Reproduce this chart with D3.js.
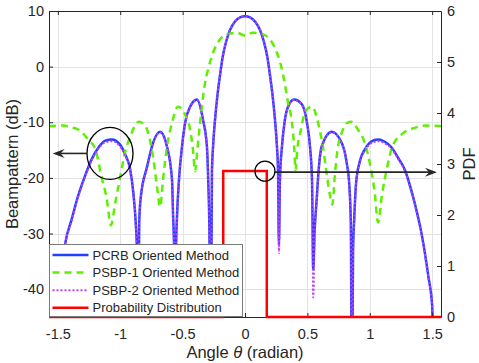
<!DOCTYPE html>
<html>
<head>
<meta charset="utf-8">
<title>Beampattern vs PDF</title>
<style>
  body { margin: 0; background: #fff; }
  svg text { font-family: "Liberation Sans", Arial, sans-serif; fill: #262626; }
</style>
</head>
<body>
<div id="chart"></div>
<script src="https://d3js.org/d3.v7.min.js"></script>
<script>

// angle samples (radian) shared by the PCRB and PSBP-2 curves
let pcrbTheta = [
  -1.571, -1.514, -1.50, -1.47, -1.44, -1.39, -1.34, -1.28, -1.23, -1.17,
  -1.12, -1.066, -1.01, -0.96, -0.92, -0.895, -0.876, -0.866, -0.857, -0.848,
  -0.835, -0.785, -0.737, -0.681, -0.625, -0.585, -0.577, -0.568, -0.561, -0.553,
  -0.545, -0.529, -0.505, -0.48, -0.44, -0.385, -0.337, -0.305, -0.295, -0.285,
  -0.276, -0.265, -0.255, -0.24, -0.22, -0.20, -0.18, -0.15, -0.12, -0.08,
  -0.04, 0, 0.04, 0.08, 0.12, 0.15, 0.18, 0.20, 0.22, 0.24,
  0.255, 0.265, 0.272, 0.28, 0.296, 0.32, 0.345, 0.393, 0.457, 0.497,
  0.521, 0.537, 0.547, 0.557, 0.574, 0.587, 0.614, 0.695, 0.775, 0.815,
  0.835, 0.848, 0.857, 0.866, 0.876, 0.89, 0.92, 0.96, 1.01, 1.066,
  1.12, 1.17, 1.23, 1.28, 1.33, 1.36, 1.42, 1.47, 1.50, 1.514,
  1.571
];

// beampattern (dB), PCRB oriented method
let pcrbDb = [
  -60, -60, -43, -37, -31.7, -27.5, -23.4, -19.5, -16.7, -14.4,
  -13.3, -13.1, -13.8, -15.8, -18.5, -22.7, -28, -33, -60, -28,
  -23.4, -18, -13.7, -11.7, -14.4, -20.3, -26.3, -33, -60, -33,
  -27, -20.3, -14.4, -10.1, -7.2, -5.9, -9.5, -14.4, -20.3, -30,
  -60, -19, -14, -9.5, -5.0, -1.5, 1.6, 4.6, 6.6, 8.1,
  8.85, 9.05, 8.85, 8.1, 6.6, 4.6, 1.6, -1.5, -5.0, -9.5,
  -14, -19, -32, -20.3, -14.4, -9.5, -7.2, -5.9, -6.8, -10.1,
  -14.4, -20.3, -36.5, -30, -24, -19.5, -14.4, -11.7, -13.7, -17.3,
  -21, -28, -60, -33, -27, -21, -17, -14.9, -13.5, -13.1,
  -13.5, -14.4, -16.5, -18.5, -22, -24.5, -30.6, -37.8, -43, -60,
  -60
];

// beampattern (dB), PSBP-2 oriented method
let psbp2Db = [
  -60, -60, -43, -37, -31.9, -27.7, -23.6, -19.7, -16.9, -14.6,
  -13.6, -13.4, -14.1, -16.0, -18.7, -22.9, -28.2, -33.5, -60, -28.5,
  -23.6, -18.1, -13.8, -11.8, -14.5, -20.4, -26.5, -34, -60, -34,
  -27.3, -20.4, -14.5, -10.2, -7.3, -6.0, -9.6, -14.5, -20.5, -30.5,
  -60, -19.2, -14.1, -9.5, -5.0, -1.5, 1.6, 4.6, 6.6, 8.1,
  8.85, 9.05, 8.85, 8.1, 6.6, 4.6, 1.6, -1.5, -5.0, -9.5,
  -14.1, -19.3, -33.5, -20.6, -14.5, -9.6, -7.3, -6.0, -6.9, -10.2,
  -14.6, -21, -41.5, -31, -24.4, -19.7, -14.5, -11.8, -13.8, -17.4,
  -21.2, -28.5, -60, -33.5, -27.2, -21.2, -17.2, -15.1, -13.8, -13.4,
  -13.8, -14.6, -16.7, -18.7, -22.2, -24.7, -30.8, -38, -43, -60,
  -60
];

// angle samples (radian) and beampattern (dB), PSBP-1 oriented method
let psbp1Theta = [
  -1.571, -1.50, -1.45, -1.40, -1.338, -1.29, -1.258, -1.20, -1.15, -1.11,
  -1.074, -1.04, -1.00, -0.962, -0.92, -0.85, -0.82, -0.785, -0.737, -0.705,
  -0.68, -0.657, -0.625, -0.585, -0.537, -0.48, -0.44, -0.417, -0.40, -0.38,
  -0.36, -0.32, -0.296, -0.256, -0.20, -0.144, -0.064, 0, 0.064, 0.144,
  0.20, 0.256, 0.296, 0.32, 0.345, 0.377, 0.395, 0.405, 0.42, 0.44,
  0.47, 0.50, 0.537, 0.58, 0.60, 0.625, 0.65, 0.68, 0.70, 0.72,
  0.745, 0.775, 0.82, 0.85, 0.905, 0.96, 1.00, 1.04, 1.066, 1.10,
  1.14, 1.18, 1.27, 1.36, 1.45, 1.571
];
let psbp1Db = [
  -10.7, -10.6, -10.6, -10.9, -11.3, -12.2, -13.1, -14.8, -19.8, -23.5,
  -28.5, -24.5, -19.8, -15.5, -12.6, -9.9, -10.2, -11.3, -16.2, -21.6,
  -25.2, -20.3, -14.4, -10.1, -7.2, -8.6, -11.3, -14.9, -18.8, -14.5,
  -10.1, -2.9, -0.5, 2.5, 4.9, 5.8, 6.1, 5.6, 6.1, 5.8,
  4.9, 2.5, -0.5, -3.2, -6.5, -10.1, -14.8, -18.6, -14.6, -12.3,
  -9.0, -7.6, -7.2, -9.5, -11.5, -14.4, -18.5, -23, -24.8, -19.5,
  -14.4, -11.9, -10.1, -9.9, -11.3, -13.7, -17.3, -22.7, -28, -22.7,
  -18, -14.4, -11.9, -11.0, -10.6, -10.7
];

// probability distribution of the angle (right axis)
let pdfTheta = [-1.5708, -0.1745, -0.1745, 0.1745, 0.1745, 1.5708];
let pdfValue = [0, 0, 2.865, 2.865, 0, 0];

// tick values
let xTicks = [-1.5, -1, -0.5, 0, 0.5, 1, 1.5];
let yLeftTicks = [-40, -30, -20, -10, 0, 10];
let yRightTicks = [0, 1, 2, 3, 4, 5, 6];

let legendNames = ["PCRB Oriented Method", "PSBP-1 Oriented Method",
  "PSBP-2 Oriented Method", "Probability Distribution"];

// annotation anchors (data units)
let bigMark = {theta: -1.082, db: -15.6};
let leftArrow = {from: -1.266, to: -1.541, db: -15.6};
let smallMark = {theta: 0.16, pdf: 2.86};
let rightArrow = {from: 0.2404, to: 1.538, pdf: 2.84};

//Set dimensions and margins of the graph
let margin = {top: 11, right: 38, bottom: 46, left: 49};
let width = 479 - margin.left - margin.right;
let height = 363 - margin.top - margin.bottom;

let xScale = d3.scaleLinear().domain([-Math.PI / 2, Math.PI / 2]).range([0, width]);
let yLeft = d3.scaleLinear().domain([-45, 10]).range([height, 0]);
let yRight = d3.scaleLinear().domain([0, 6]).range([height, 0]);

let svg = d3.select("#chart").append("svg")
  .attr("width", 479)
  .attr("height", 363)
  .append("g")
  .attr("transform", "translate(" + margin.left + "," + margin.top + ")");

svg.append("defs").append("clipPath").attr("id", "plotclip")
  .append("rect").attr("width", width).attr("height", height);

// grid
svg.append("g").selectAll("line").data(xTicks).enter().append("line")
  .attr("x1", d => Math.round(xScale(d)) + 0.5).attr("x2", d => Math.round(xScale(d)) + 0.5)
  .attr("y1", 0).attr("y2", height)
  .attr("stroke", "#e3e3e3");
svg.append("g").selectAll("line").data(yLeftTicks).enter().append("line")
  .attr("x1", 0).attr("x2", width)
  .attr("y1", d => Math.round(yLeft(d)) + 0.5).attr("y2", d => Math.round(yLeft(d)) + 0.5)
  .attr("stroke", "#e3e3e3");

// curves
let dbLine = d3.line()
  .x(d => xScale(d[0]))
  .y(d => yLeft(d[1]))
  .curve(d3.curveMonotoneX);

let curves = svg.append("g").attr("clip-path", "url(#plotclip)");

curves.append("path")
  .datum(d3.zip(pcrbTheta, pcrbDb))
  .attr("d", dbLine)
  .attr("fill", "none")
  .attr("stroke", "#2040ff")
  .attr("stroke-width", 2.5);

curves.append("path")
  .datum(d3.zip(psbp1Theta, psbp1Db))
  .attr("d", dbLine)
  .attr("fill", "none")
  .attr("stroke", "#5ef000")
  .attr("stroke-width", 2.5)
  .attr("stroke-dasharray", "7,5");

curves.append("path")
  .datum(d3.zip(pcrbTheta, psbp2Db))
  .attr("d", dbLine)
  .attr("fill", "none")
  .attr("stroke", "#c03cff")
  .attr("stroke-width", 2)
  .attr("stroke-dasharray", "2,2");

// axes
let axisColor = "#262626";
function styleAxis(g) {
  g.selectAll(".domain").attr("stroke", axisColor);
  g.selectAll(".tick line").attr("stroke", axisColor);
  g.selectAll("text").attr("fill", axisColor).style("font-size", "14.5px")
    .style("font-family", '"Liberation Sans", Arial, sans-serif');
}

svg.append("g")
  .attr("transform", "translate(0," + height + ")")
  .call(d3.axisBottom(xScale).tickValues(xTicks).tickFormat(d => String(d))
    .tickSizeInner(-4).tickSizeOuter(0).tickPadding(12))
  .call(styleAxis);

svg.append("g")
  .call(d3.axisTop(xScale).tickValues(xTicks).tickFormat("")
    .tickSizeInner(-4).tickSizeOuter(0))
  .call(styleAxis);

svg.append("g")
  .call(d3.axisLeft(yLeft).tickValues(yLeftTicks).tickFormat(d => String(d))
    .tickSizeInner(-4).tickSizeOuter(0).tickPadding(5))
  .call(styleAxis);

svg.append("g")
  .attr("transform", "translate(" + width + ",0)")
  .call(d3.axisRight(yRight).tickValues(yRightTicks).tickFormat(d => String(d))
    .tickSizeInner(-4).tickSizeOuter(0).tickPadding(6))
  .call(styleAxis);

// probability distribution on the right axis
let pdfLine = d3.line()
  .x(d => xScale(d[0]))
  .y(d => yRight(d[1]));

svg.append("path")
  .datum(d3.zip(pdfTheta, pdfValue))
  .attr("d", pdfLine)
  .attr("fill", "none")
  .attr("stroke", "#ff0000")
  .attr("stroke-width", 2.5);

// axis labels
svg.append("text")
  .attr("transform", "translate(" + (12 - margin.left) + "," + (height / 2) + ") rotate(-90)")
  .attr("text-anchor", "middle")
  .attr("dy", "0.35em")
  .style("font-size", "16.5px")
  .text("Beampattern (dB)");

svg.append("text")
  .attr("transform", "translate(" + (width + 28) + "," + (height / 2) + ") rotate(-90)")
  .attr("text-anchor", "middle")
  .attr("dy", "0.35em")
  .style("font-size", "16.5px")
  .text("PDF");

let xLabel = svg.append("text")
  .attr("x", width / 2)
  .attr("y", height + 41)
  .attr("text-anchor", "middle")
  .style("font-size", "16.5px");
xLabel.append("tspan").text("Angle ");
xLabel.append("tspan").style("font-style", "italic").text("θ");
xLabel.append("tspan").text(" (radian)");

// annotations: circles and arrows
function arrowHead(tipX, tipY, dir) {
  let L = 12, W = 4.5;
  return "M" + tipX + "," + tipY +
    "L" + (tipX - dir * L) + "," + (tipY - W) +
    "L" + (tipX - dir * L * 0.65) + "," + tipY +
    "L" + (tipX - dir * L) + "," + (tipY + W) + "Z";
}

let notes = svg.append("g");

notes.append("ellipse")
  .attr("cx", xScale(bigMark.theta)).attr("cy", yLeft(bigMark.db))
  .attr("rx", 23).attr("ry", 26)
  .attr("fill", "none").attr("stroke", "#000").attr("stroke-width", 1.3);

let lay = yLeft(leftArrow.db);
notes.append("line")
  .attr("x1", xScale(leftArrow.from)).attr("x2", xScale(leftArrow.to) + 8)
  .attr("y1", lay).attr("y2", lay)
  .attr("stroke", axisColor).attr("stroke-width", 1.6);
notes.append("path")
  .attr("d", arrowHead(xScale(leftArrow.to), lay, -1))
  .attr("fill", axisColor);

notes.append("circle")
  .attr("cx", xScale(smallMark.theta)).attr("cy", yRight(smallMark.pdf))
  .attr("r", 10)
  .attr("fill", "none").attr("stroke", "#000").attr("stroke-width", 1.3);

let ray = yRight(rightArrow.pdf);
notes.append("line")
  .attr("x1", xScale(rightArrow.from)).attr("x2", xScale(rightArrow.to) - 8)
  .attr("y1", ray).attr("y2", ray)
  .attr("stroke", axisColor).attr("stroke-width", 1.6);
notes.append("path")
  .attr("d", arrowHead(xScale(rightArrow.to), ray, 1))
  .attr("fill", axisColor);

// legend
let legend = svg.append("g").attr("transform", "translate(0.5," + (height - 72.5) + ")");
legend.append("rect")
  .attr("width", 193).attr("height", 72)
  .attr("fill", "#fff").attr("stroke", "#7a7a7a");

let legendStyles = [
  {color: "#2040ff", dash: null, w: 2.5},
  {color: "#5ef000", dash: "7,5", w: 2.5},
  {color: "#c03cff", dash: "2,2", w: 2},
  {color: "#ff0000", dash: null, w: 2.5}
];

let rows = legend.selectAll(".row").data(legendNames).enter().append("g")
  .attr("class", "row")
  .attr("transform", (d, i) => "translate(0," + (10.5 + i * 17.6) + ")");
rows.append("line")
  .attr("x1", 3).attr("x2", 39)
  .attr("stroke", (d, i) => legendStyles[i].color)
  .attr("stroke-width", (d, i) => legendStyles[i].w)
  .attr("stroke-dasharray", (d, i) => legendStyles[i].dash);
rows.append("text")
  .attr("x", 43).attr("dy", "0.35em")
  .style("font-size", "13px")
  .text(d => d);

</script>
</body>
</html>
